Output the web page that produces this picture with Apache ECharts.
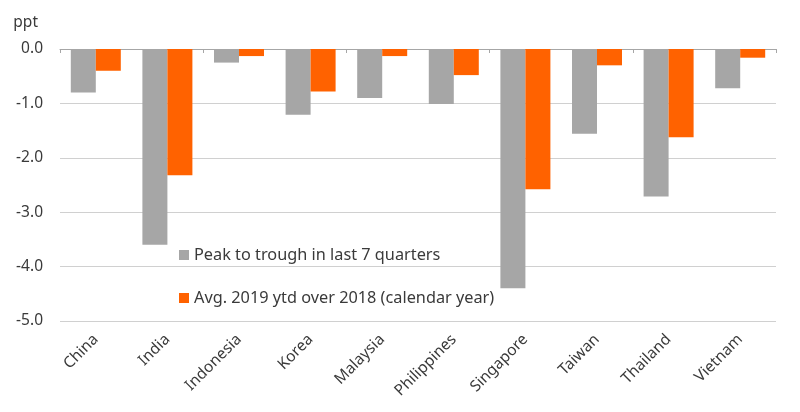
<!DOCTYPE html>
<html>
<head>
<meta charset="utf-8">
<script src="https://cdn.jsdelivr.net/npm/echarts@6/dist/echarts.min.js"></script>
<style>
  html, body { margin: 0; padding: 0; background: #fff; }
  #chart { width: 800px; height: 412px; }
</style>
</head>
<body>
<div id="chart"></div>
<script>
var countries = ['China', 'India', 'Indonesia', 'Korea', 'Malaysia', 'Philippines', 'Singapore', 'Taiwan', 'Thailand', 'Vietnam']
var peakToTrough = [-0.80, -3.60, -0.25, -1.21, -0.90, -1.01, -4.40, -1.56, -2.71, -0.72]
var avgYtd = [-0.40, -2.32, -0.13, -0.78, -0.13, -0.48, -2.58, -0.30, -1.62, -0.16]
var seriesNames = ['Peak to trough in last 7 quarters', 'Avg. 2019 ytd over 2018 (calendar year)']

var font = 'Noto Sans'
var textColor = '#3a3a3a'

var chart = echarts.init(document.getElementById('chart'))
var option = {
    animation: false,
    textStyle: { fontFamily: font },
    grid: { left: 60, right: 24, top: 49, bottom: 91 },
    legend: {
        orient: 'vertical',
        left: 174,
        top: 242,
        itemWidth: 10,
        itemHeight: 10,
        itemGap: 27,
        icon: 'rect',
        textStyle: { fontFamily: font, fontSize: 16.3, color: textColor },
        data: seriesNames
    },
    xAxis: [
        {
            type: 'category',
            data: countries,
            position: 'bottom',
            axisLine: { show: false, onZero: false },
            axisTick: { show: false },
            axisLabel: {
                rotate: 45,
                margin: 16,
                fontSize: 15.5,
                color: textColor,
                fontFamily: font
            }
        },
        {
            type: 'category',
            data: countries,
            position: 'top',
            axisLine: { show: true, onZero: false, lineStyle: { color: '#a6a6a6', width: 1 } },
            axisTick: { show: true, inside: true, length: 4, lineStyle: { color: '#a6a6a6' } },
            axisLabel: { show: false }
        }
    ],
    yAxis: {
        type: 'value',
        min: -5,
        max: 0,
        interval: 1,
        name: 'ppt',
        nameLocation: 'end',
        nameGap: 18,
        nameTextStyle: { fontSize: 15.5, color: textColor, fontFamily: font, align: 'right', padding: [0, 22, 0, 0] },
        axisLine: { show: false },
        axisTick: { show: false },
        axisLabel: {
            fontSize: 15.5,
            color: textColor,
            margin: 17,
            formatter: function (v) { return v.toFixed(1) }
        },
        splitLine: { lineStyle: { color: '#d0d0d0', width: 1 } }
    },
    series: [
        {
            name: seriesNames[0],
            type: 'bar',
            xAxisIndex: 0,
            data: peakToTrough,
            barWidth: 25,
            barGap: '0%',
            itemStyle: { color: '#a6a6a6' }
        },
        {
            name: seriesNames[1],
            type: 'bar',
            xAxisIndex: 0,
            data: avgYtd,
            barWidth: 25,
            barGap: '0%',
            itemStyle: { color: '#ff6200' }
        }
    ]
}
chart.setOption(option)
</script>
</body>
</html>
